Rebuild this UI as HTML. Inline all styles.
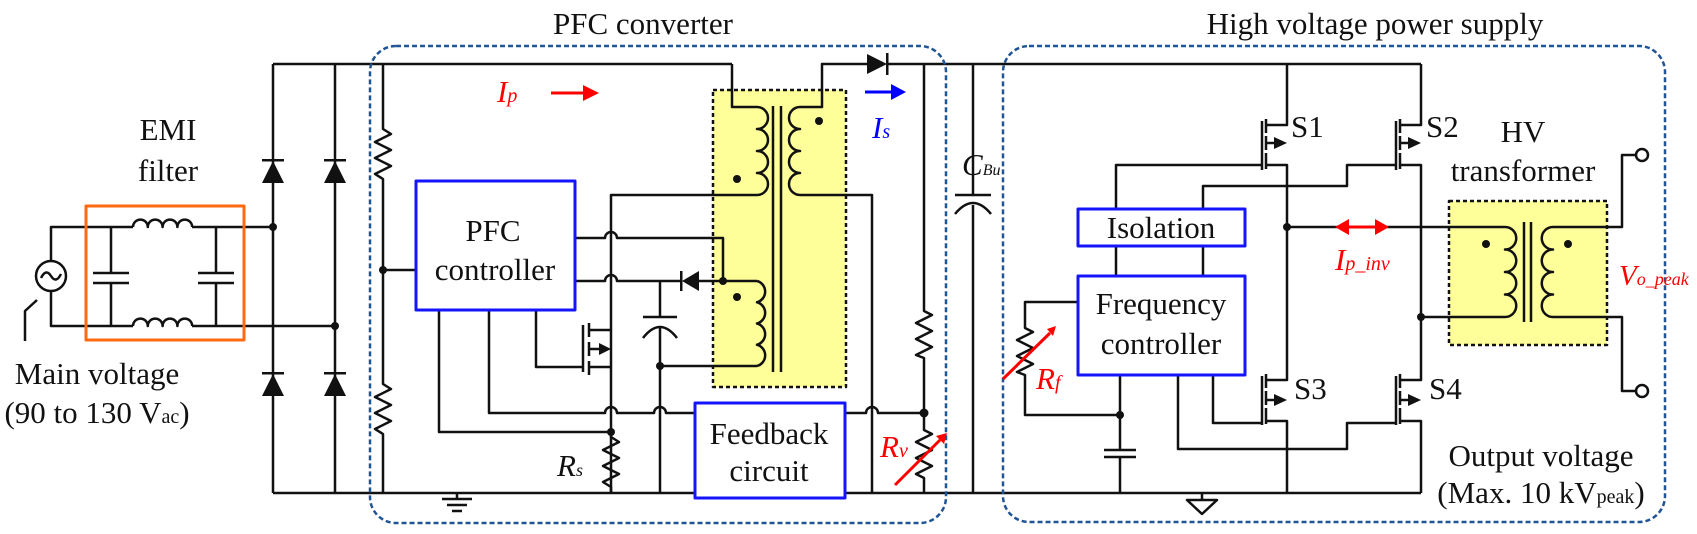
<!DOCTYPE html>
<html><head><meta charset="utf-8"><style>
html,body{margin:0;padding:0;background:#fff;}
svg{display:block;}
text{font-family:"Liberation Serif",serif;fill:#111;}
</style></head><body>
<svg width="1697" height="534" viewBox="0 0 1697 534" xmlns="http://www.w3.org/2000/svg">
<g fill="none" stroke="#111" stroke-width="2.5" stroke-linejoin="round">
<rect x="713" y="90" width="133" height="297" fill="#ffff99" stroke="#111" stroke-dasharray="4,3"/>
<rect x="1449" y="201" width="158" height="144" fill="#ffff99" stroke="#111" stroke-dasharray="4,3"/>

<circle cx="51" cy="276" r="15"/>
<path d="M41 278 q5 -10 10 -2 q5 8 10 -2"/>
<path d="M51 261 V227 H273 M51 291 V326 H335"/>
<path d="M25 341 V311 L37 300"/>
<path d="M133 227 h59 M133 326 h59" stroke="#fff" stroke-width="4"/>
<path d="M133 227 a7.4 7.4 0 0 1 14.8 0 a7.4 7.4 0 0 1 14.8 0 a7.4 7.4 0 0 1 14.8 0 a7.4 7.4 0 0 1 14.8 0"/>
<path d="M133 326 a7.4 7.4 0 0 1 14.8 0 a7.4 7.4 0 0 1 14.8 0 a7.4 7.4 0 0 1 14.8 0 a7.4 7.4 0 0 1 14.8 0"/>
<path d="M111 227 V273 M93 273 H129 M93 283 H129 M111 283 V326"/>
<path d="M216 227 V273 M198 273 H234 M198 283 H234 M216 283 V326"/>
<rect x="86" y="206" width="158" height="134" stroke="#ff6a10" stroke-width="3"/>

<path d="M273 64 V493 M335 64 V493 M273 64 H732 M273 493 H1421"/>
<path d="M383 64 V129 l8 5 l-16 8 l16 8 l-16 8 l16 8 l-16 8 l8 5 V384 l8 5 l-16 8 l16 8 l-16 8 l16 8 l-16 8 l8 5 V493" fill="none"/>
<path d="M383 270 H416"/>
<path d="M457 493 V499 M442 499 H472 M447 505 H467 M452 511 H462"/>

<path d="M575 238 H605 a6 6 0 0 1 12 0 H723 V281"/>
<path d="M575 281 H605 a6 6 0 0 1 12 0 H682 M699 281 H757"/>
<path d="M732 64 V107 H757"/>
<path d="M757 107 a11 11 0 0 1 0 22 a11 11 0 0 1 0 22 a11 11 0 0 1 0 22 a11 11 0 0 1 0 22"/>
<path d="M757 195 H611 V493"/>
<path d="M773 106 V372 M781 106 V372"/>
<path d="M800 107 a11 11 0 0 0 0 22 a11 11 0 0 0 0 22 a11 11 0 0 0 0 22 a11 11 0 0 0 0 22"/>
<path d="M800 107 H822 V64 H867 M887 64 H1421"/>
<path d="M800 195 H872 V493"/>
<path d="M757 281 a11 11 0 0 1 0 21.25 a11 11 0 0 1 0 21.25 a11 11 0 0 1 0 21.25 a11 11 0 0 1 0 21.25"/>
<path d="M757 366 H660"/>
<path d="M660 281 V317 M643 317 H677 M643 338 q17 -22 34 0 M660 328 V493"/>
<path d="M583 325 V372 M589 323 V337 M589 342 V356 M589 361 V375 M589 330 H611 M589 349 H607 M589 367 H611"/>
<path d="M536 310 V367 H583"/>
<path d="M439 310 V432 H611"/>
<path d="M489 310 V413 H605 a6 6 0 0 1 12 0 H654 a6 6 0 0 1 12 0 H695"/>
<path d="M611 432 V437 l8 5 l-16 8 l16 8 l-16 8 l16 8 l-16 8 l8 5 V493" stroke="#111"/>
<path d="M845 413 H866 a6 6 0 0 1 12 0 H924"/>
<path d="M924 64 V311 l8 4 l-16 8 l16 8 l-16 8 l16 8 l-16 8 l8 3 V430 l8 4 l-16 8 l16 8 l-16 8 l16 8 l-16 8 l8 4 V493"/>
<path d="M973 64 V195 M955 195 H991 M955 214 q18 -22 36 0 M973 205 V493"/>

<path d="M1287 64 V125 H1265 M1265 143 H1283 M1265 165 H1287 V380 H1265 M1265 400 H1283 M1265 421 H1287 V493"/>
<path d="M1421 64 V125 H1399 M1399 143 H1417 M1399 165 H1421 V380 H1399 M1399 400 H1417 M1399 421 H1421 V493"/>
<path d="M1262 121 V170 M1266 119 V133 M1266 136 V150 M1266 153 V169"/>
<path d="M1396 121 V170 M1400 119 V133 M1400 136 V150 M1400 153 V169"/>
<path d="M1262 376 V425 M1266 374 V388 M1266 391 V405 M1266 408 V424"/>
<path d="M1396 376 V425 M1400 374 V388 M1400 391 V405 M1400 408 V424"/>
<path d="M1116 209 V165 H1262 M1203 209 V186 H1347 V165 H1396"/>
<path d="M1213 375 V423 H1262 M1178 375 V449 H1347 V423 H1396"/>
<path d="M1116 246 V276 M1203 246 V276"/>
<path d="M1287 227 H1505 M1421 317 H1505"/>
<path d="M1505 227 a11 11 0 0 1 0 22.5 a11 11 0 0 1 0 22.5 a11 11 0 0 1 0 22.5 a11 11 0 0 1 0 22.5"/>
<path d="M1524 222 V322 M1531 222 V322"/>
<path d="M1553 227 a11 11 0 0 0 0 22.5 a11 11 0 0 0 0 22.5 a11 11 0 0 0 0 22.5 a11 11 0 0 0 0 22.5"/>
<path d="M1553 227 H1622 V155 H1636 M1553 317 H1622 V391 H1636"/>
<circle cx="1642" cy="155" r="6"/><circle cx="1642" cy="391" r="6"/>
<path d="M1078 302 H1025 V328 l8 4 l-16 8 l16 8 l-16 8 l16 8 l-16 8 l8 3 V415 H1120"/>
<path d="M1120 375 V450 M1104 450 H1136 M1104 457 H1136 M1120 457 V493"/>
<path d="M1202 493 V500 M1187 500 H1217 L1202 514 Z"/>

<rect x="416" y="181" width="159" height="129" fill="#fff" stroke="#1414ff" stroke-width="3"/>
<rect x="695" y="403" width="150" height="95" fill="#fff" stroke="#1414ff" stroke-width="3"/>
<rect x="1078" y="209" width="167" height="37" fill="#fff" stroke="#1414ff" stroke-width="3"/>
<rect x="1078" y="276" width="167" height="99" fill="#fff" stroke="#1414ff" stroke-width="3"/>

<rect x="370" y="46" width="576" height="477" rx="26" stroke="#1f5596" stroke-width="2.5" stroke-dasharray="5,3"/>
<rect x="1003" y="46" width="662" height="476" rx="26" stroke="#1f5596" stroke-width="2.5" stroke-dasharray="5,3"/>
</g>
<g fill="#111" stroke="none">
<circle cx="273" cy="227" r="4"/><circle cx="335" cy="326" r="4"/><circle cx="383" cy="270" r="4"/>
<circle cx="723" cy="281" r="4"/><circle cx="660" cy="366" r="4"/><circle cx="611" cy="432" r="4"/>
<circle cx="924" cy="413" r="4.5"/><circle cx="1287" cy="227" r="4"/><circle cx="1421" cy="317" r="4"/>
<circle cx="1120" cy="415" r="4"/>
<circle cx="737" cy="179" r="4"/><circle cx="819" cy="121" r="4"/><circle cx="737" cy="297" r="4"/>
<circle cx="1486" cy="244" r="4"/><circle cx="1568" cy="244" r="4"/>
<path d="M262 183 H284 L273 161 Z"/><rect x="262" y="159" width="22" height="2.5"/>
<path d="M324 183 H346 L335 161 Z"/><rect x="324" y="159" width="22" height="2.5"/>
<path d="M262 396 H284 L273 374 Z"/><rect x="262" y="372" width="22" height="2.5"/>
<path d="M324 396 H346 L335 374 Z"/><rect x="324" y="372" width="22" height="2.5"/>
<path d="M867 54 V74 L887 64 Z"/><rect x="886" y="53" width="2.5" height="22"/>
<path d="M699 271 V291 L682 281 Z"/><rect x="680" y="271" width="2.5" height="20"/>
<path d="M599 343 L611 349 L599 355 Z"/>
<path d="M1274 137 L1287 143 L1274 149 Z"/><path d="M1408 137 L1421 143 L1408 149 Z"/>
<path d="M1274 394 L1287 400 L1274 406 Z"/><path d="M1408 394 L1421 400 L1408 406 Z"/>
</g>
<g stroke-width="3" fill="none">
<path d="M551 93 H585" stroke="#ff0000"/>
<path d="M865 92 H893" stroke="#0000ff"/>
<path d="M1347 227 H1377" stroke="#ff0000"/>
<path d="M895 485 L940 440" stroke="#ff0000"/>
<path d="M1003 379 L1050 333" stroke="#ff0000"/>
</g>
<g stroke="none">
<path d="M583 85 L599 93 L583 101 Z" fill="#ff0000"/>
<path d="M891 84 L906 92 L891 100 Z" fill="#0000ff"/>
<path d="M1349 219 L1335 227 L1349 235 Z" fill="#ff0000"/>
<path d="M1375 219 L1389 227 L1375 235 Z" fill="#ff0000"/>
<path d="M936 436 L947 433 L944 444 Z" fill="#ff0000"/>
<path d="M1047 329 L1056 326 L1053 336 Z" fill="#ff0000"/>
</g>

<g font-size="31">
<text x="643" y="34" text-anchor="middle">PFC converter</text>
<text x="1375" y="34" text-anchor="middle">High voltage power supply</text>
<text x="168" y="140" text-anchor="middle">EMI</text>
<text x="168" y="181" text-anchor="middle">filter</text>
<text x="97" y="384" text-anchor="middle">Main voltage</text>
<text x="97" y="423" text-anchor="middle">(90 to 130 V<tspan font-size="20">ac</tspan>)</text>
<text x="493" y="241" text-anchor="middle">PFC</text>
<text x="495" y="280" text-anchor="middle">controller</text>
<text x="769" y="444" text-anchor="middle">Feedback</text>
<text x="769" y="481" text-anchor="middle">circuit</text>
<text x="1161" y="238" text-anchor="middle">Isolation</text>
<text x="1161" y="314" text-anchor="middle">Frequency</text>
<text x="1161" y="354" text-anchor="middle">controller</text>
<text x="1291" y="137">S1</text>
<text x="1426" y="137">S2</text>
<text x="1294" y="399">S3</text>
<text x="1429" y="399">S4</text>
<text x="1523" y="142" text-anchor="middle">HV</text>
<text x="1523" y="181" text-anchor="middle">transformer</text>
<text x="1541" y="466" text-anchor="middle">Output voltage</text>
<text x="1541" y="503" text-anchor="middle">(Max. 10 kV<tspan font-size="20">peak</tspan>)</text>
<text x="557" y="476" font-style="italic">R<tspan font-size="18">s</tspan></text>
<text x="962" y="175" font-style="italic">C<tspan font-size="16">Bu</tspan></text>
</g>
<g font-size="31" font-style="italic">
<text x="497" y="102" style="fill:#ff0000">I<tspan font-size="20">p</tspan></text>
<text x="872" y="138" style="fill:#0000ff">I<tspan font-size="20">s</tspan></text>
<text x="880" y="457" style="fill:#ff0000">R<tspan font-size="20">v</tspan></text>
<text x="1036" y="389" style="fill:#ff0000">R<tspan font-size="20">f</tspan></text>
<text x="1335" y="270" style="fill:#ff0000">I<tspan font-size="20">p_inv</tspan></text>
<text x="1619" y="285" style="fill:#ff0000" font-size="29">V<tspan font-size="18">o_peak</tspan></text>
</g>
</svg>
</body></html>
